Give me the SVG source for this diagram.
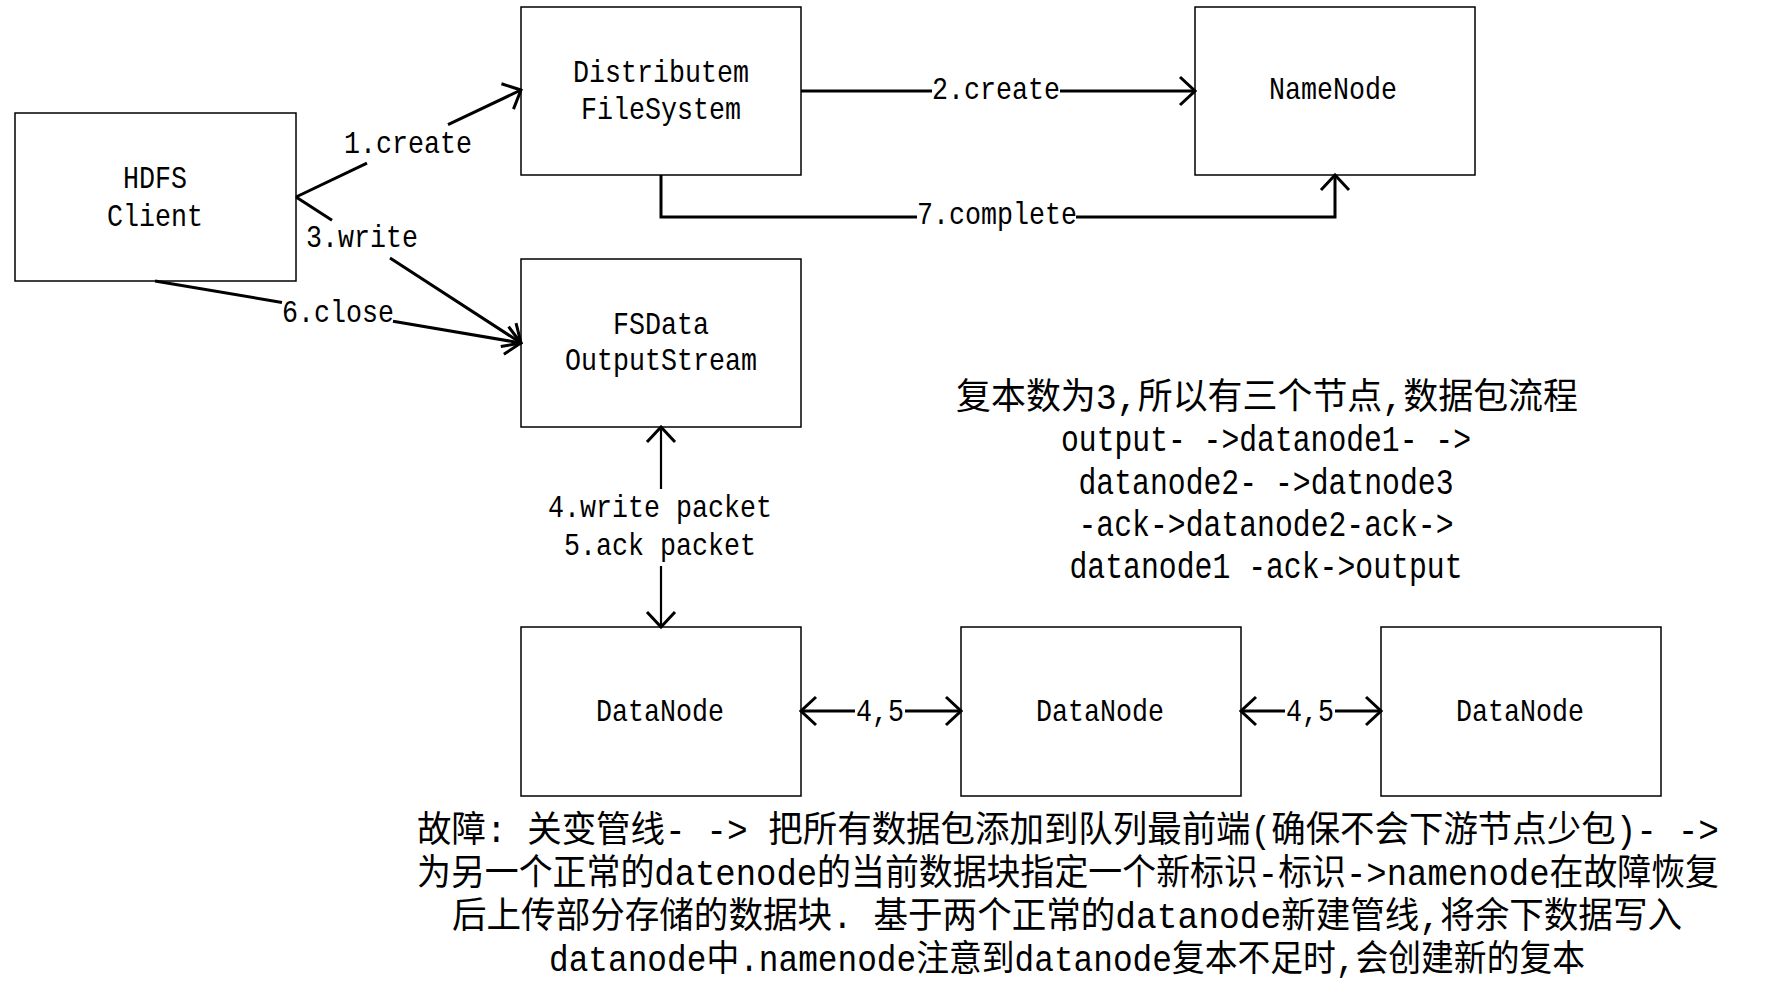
<svg xmlns="http://www.w3.org/2000/svg" width="1777" height="1000" viewBox="0 0 1777 1000">
<defs>
<style>
.box{fill:#fff;stroke:#000;stroke-width:1.5}
.t{font-family:"Liberation Mono","Noto Sans CJK SC",monospace;font-size:32px;fill:#000;text-anchor:middle}
.n{font-size:36px}
.c{fill:none;stroke:#000;stroke-width:3}
.c2{fill:none;stroke:#000;stroke-width:2.2}
</style>
<marker id="ah" viewBox="-18 -16 20 32" refX="0" refY="0" markerWidth="20" markerHeight="32" markerUnits="userSpaceOnUse" orient="auto-start-reverse">
<path d="M-15,-14 L0,0 L-15,14" fill="none" stroke="#000" stroke-width="3"/>
</marker>
</defs>
<rect x="0" y="0" width="1777" height="1000" fill="#fff"/>

<g id="hdfs-client">
<rect class="box" x="15" y="113" width="281" height="168"/>
<text class="t" x="155" y="188" textLength="64" lengthAdjust="spacingAndGlyphs">HDFS</text>
<text class="t" x="155" y="226" textLength="96" lengthAdjust="spacingAndGlyphs">Client</text>
</g>
<g id="distributed-fs">
<rect class="box" x="521" y="7" width="280" height="168"/>
<text class="t" x="661" y="82" textLength="176" lengthAdjust="spacingAndGlyphs">Distributem</text>
<text class="t" x="661" y="119" textLength="160" lengthAdjust="spacingAndGlyphs">FileSystem</text>
</g>
<g id="namenode">
<rect class="box" x="1195" y="7" width="280" height="168"/>
<text class="t" x="1333" y="99" textLength="128" lengthAdjust="spacingAndGlyphs">NameNode</text>
</g>
<g id="fsdata-outputstream">
<rect class="box" x="521" y="259" width="280" height="168"/>
<text class="t" x="661" y="334" textLength="96" lengthAdjust="spacingAndGlyphs">FSData</text>
<text class="t" x="661" y="370" textLength="192" lengthAdjust="spacingAndGlyphs">OutputStream</text>
</g>
<g id="datanode1">
<rect class="box" x="521" y="627" width="280" height="169"/>
<text class="t" x="660" y="721" textLength="128" lengthAdjust="spacingAndGlyphs">DataNode</text>
</g>
<g id="datanode2">
<rect class="box" x="961" y="627" width="280" height="169"/>
<text class="t" x="1100" y="721" textLength="128" lengthAdjust="spacingAndGlyphs">DataNode</text>
</g>
<g id="datanode3">
<rect class="box" x="1381" y="627" width="280" height="169"/>
<text class="t" x="1520" y="721" textLength="128" lengthAdjust="spacingAndGlyphs">DataNode</text>
</g>

<g id="connectors">
<path class="c" d="M296,197 L367,163.2 M448,124.7 L521,90" marker-end="url(#ah)"/>
<text class="t" x="408" y="153" textLength="128" lengthAdjust="spacingAndGlyphs">1.create</text>
<path class="c" d="M296,197 L332,220.3 M390,258 L521,343" marker-end="url(#ah)"/>
<text class="t" x="362" y="247" textLength="112" lengthAdjust="spacingAndGlyphs">3.write</text>
<path class="c" d="M155,281 L282,302.5 M393,321.3 L521,343" marker-end="url(#ah)"/>
<text class="t" x="338" y="322" textLength="112" lengthAdjust="spacingAndGlyphs">6.close</text>
<path class="c" d="M801,91 L932,91 M1060,91 L1195,91" marker-end="url(#ah)"/>
<text class="t" x="996" y="99" textLength="128" lengthAdjust="spacingAndGlyphs">2.create</text>
<path class="c" d="M661,175 L661,217 L917,217 M1076,217 L1335,217 L1335,175" marker-end="url(#ah)"/>
<text class="t" x="997" y="224" textLength="160" lengthAdjust="spacingAndGlyphs">7.complete</text>
<path class="c2" d="M661,427 L661,489 M661,566 L661,627" marker-start="url(#ah)" marker-end="url(#ah)"/>
<text class="t" x="660" y="517" textLength="224" lengthAdjust="spacingAndGlyphs">4.write packet</text>
<text class="t" x="660" y="555" textLength="192" lengthAdjust="spacingAndGlyphs">5.ack packet</text>
<path class="c" d="M801,711 L855,711 M905,711 L961,711" marker-start="url(#ah)" marker-end="url(#ah)"/>
<text class="t" x="880" y="721" textLength="48" lengthAdjust="spacingAndGlyphs">4,5</text>
<path class="c" d="M1241,711 L1285,711 M1335,711 L1381,711" marker-start="url(#ah)" marker-end="url(#ah)"/>
<text class="t" x="1310" y="721" textLength="48" lengthAdjust="spacingAndGlyphs">4,5</text>
</g>

<g id="note-pipeline">
<text class="t n" x="1267" y="409" textLength="622" lengthAdjust="spacingAndGlyphs">复本数为3,所以有三个节点,数据包流程</text>
<text class="t n" x="1266" y="451" textLength="410" lengthAdjust="spacingAndGlyphs">output- -&gt;datanode1- -&gt;</text>
<text class="t n" x="1266" y="494" textLength="375" lengthAdjust="spacingAndGlyphs">datanode2- -&gt;datnode3</text>
<text class="t n" x="1266" y="536" textLength="375" lengthAdjust="spacingAndGlyphs">-ack-&gt;datanode2-ack-&gt;</text>
<text class="t n" x="1266" y="578" textLength="393" lengthAdjust="spacingAndGlyphs">datanode1 -ack-&gt;output</text>
</g>

<g id="note-failure">
<text class="t n" x="1068" y="842" textLength="1302" lengthAdjust="spacingAndGlyphs">故障: 关变管线- -&gt; 把所有数据包添加到队列最前端(确保不会下游节点少包)- -&gt;</text>
<text class="t n" x="1068" y="885" textLength="1302" lengthAdjust="spacingAndGlyphs">为另一个正常的datenode的当前数据块指定一个新标识-标识-&gt;namenode在故障恢复</text>
<text class="t n" x="1067" y="928" textLength="1230" lengthAdjust="spacingAndGlyphs">后上传部分存储的数据块. 基于两个正常的datanode新建管线,将余下数据写入</text>
<text class="t n" x="1067" y="971" textLength="1036" lengthAdjust="spacingAndGlyphs">datanode中.namenode注意到datanode复本不足时,会创建新的复本</text>
</g>
</svg>
